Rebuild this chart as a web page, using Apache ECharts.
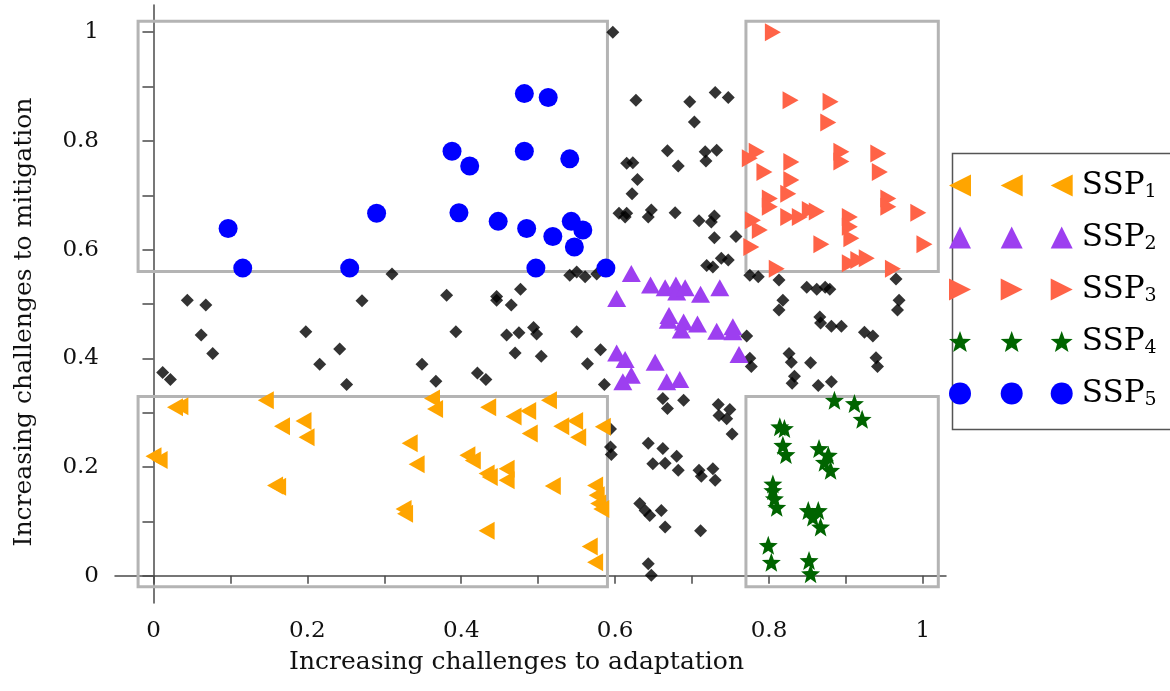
<!DOCTYPE html>
<html><head><meta charset="utf-8">
<script src="https://cdn.jsdelivr.net/npm/echarts@6/dist/echarts.min.js"></script>
<style>html,body{margin:0;padding:0;background:#fff}#c{width:1170px;height:691px}</style>
</head><body><div id="c"></div>
<script>
// ---- data (x = challenges to adaptation, y = challenges to mitigation) ----
const ssp1 = [[0.028,0.310],[0.035,0.312],[0.146,0.323],[0.167,0.275],[0.195,0.285],[0.199,0.255],
  [0.000,0.220],[0.008,0.213],[0.158,0.166],[0.162,0.164],[0.362,0.326],[0.366,0.307],[0.333,0.244],
  [0.342,0.205],[0.325,0.123],[0.327,0.114],[0.435,0.310],[0.468,0.293],[0.487,0.303],[0.489,0.262],
  [0.514,0.323],[0.530,0.275],[0.548,0.285],[0.552,0.255],[0.584,0.274],[0.408,0.222],[0.415,0.212],
  [0.433,0.188],[0.437,0.182],[0.459,0.197],[0.459,0.176],[0.519,0.165],[0.574,0.166],[0.576,0.148],
  [0.578,0.133],[0.582,0.123],[0.433,0.083],[0.567,0.054],[0.574,0.025]];
const ssp2 = [[0.621,0.556],[0.602,0.510],[0.646,0.535],[0.665,0.530],[0.679,0.535],[0.680,0.522],
  [0.691,0.530],[0.711,0.518],[0.736,0.530],[0.670,0.479],[0.669,0.470],[0.689,0.467],[0.686,0.452],
  [0.707,0.463],[0.732,0.450],[0.753,0.458],[0.753,0.449],[0.761,0.407],[0.602,0.410],[0.613,0.398],
  [0.652,0.393],[0.621,0.369],[0.610,0.357],[0.667,0.357],[0.684,0.361]];
const ssp3 = [[0.805,1.000],[0.828,0.875],[0.880,0.872],[0.877,0.834],[0.775,0.768],[0.784,0.780],
  [0.794,0.743],[0.829,0.761],[0.829,0.728],[0.825,0.703],[0.894,0.780],[0.894,0.762],[0.942,0.777],
  [0.944,0.743],[0.801,0.694],[0.801,0.679],[0.779,0.654],[0.788,0.636],[0.777,0.605],[0.825,0.660],
  [0.840,0.660],[0.853,0.673],[0.862,0.670],[0.905,0.660],[0.905,0.642],[0.907,0.621],[0.955,0.694],
  [0.955,0.679],[0.994,0.668],[1.002,0.610],[0.868,0.610],[0.905,0.575],[0.916,0.581],[0.927,0.584],
  [0.961,0.565],[0.810,0.565]];
const ssp4 = [[0.885,0.323],[0.911,0.317],[0.921,0.288],[0.814,0.274],[0.820,0.271],[0.818,0.240],
  [0.822,0.223],[0.865,0.234],[0.877,0.222],[0.872,0.209],[0.880,0.194],[0.805,0.169],[0.805,0.157],
  [0.807,0.142],[0.810,0.126],[0.851,0.120],[0.864,0.120],[0.857,0.108],[0.867,0.090],[0.799,0.056],
  [0.803,0.025],[0.852,0.028],[0.854,0.004]];
const ssp5 = [[0.482,0.887],[0.513,0.880],[0.388,0.781],[0.411,0.754],[0.482,0.781],[0.541,0.767],
  [0.290,0.667],[0.397,0.668],[0.097,0.639],[0.448,0.652],[0.485,0.639],[0.519,0.624],[0.543,0.652],
  [0.558,0.636],[0.547,0.605],[0.116,0.566],[0.255,0.566],[0.497,0.566],[0.588,0.566]];
const others = [[0.597,1.000],
  [0.627,0.875],[0.697,0.872],[0.703,0.835],[0.730,0.889],[0.747,0.880],
  [0.668,0.782],[0.682,0.754],[0.717,0.780],[0.718,0.763],[0.732,0.783],
  [0.615,0.759],[0.623,0.760],[0.629,0.729],[0.622,0.703],
  [0.605,0.667],[0.613,0.660],[0.615,0.667],[0.643,0.660],[0.647,0.673],
  [0.678,0.668],[0.709,0.653],[0.725,0.651],[0.729,0.662],[0.729,0.622],[0.757,0.624],
  [0.719,0.571],[0.727,0.568],[0.738,0.584],[0.747,0.581],
  [0.775,0.553],[0.786,0.550],[0.813,0.544],
  [0.849,0.531],[0.862,0.527],[0.873,0.531],[0.879,0.527],
  [0.965,0.546],[0.969,0.507],[0.967,0.489],
  [0.818,0.507],[0.813,0.489],
  [0.866,0.476],[0.867,0.465],[0.881,0.459],[0.894,0.459],
  [0.924,0.448],[0.935,0.441],[0.939,0.401],[0.941,0.385],
  [0.826,0.409],[0.829,0.393],[0.854,0.392],[0.833,0.367],[0.830,0.354],[0.864,0.350],[0.881,0.357],
  [0.771,0.441],[0.775,0.400],[0.777,0.385],
  [0.310,0.555],[0.541,0.553],[0.550,0.559],[0.561,0.550],[0.576,0.555],
  [0.044,0.507],[0.068,0.498],[0.271,0.506],[0.381,0.516],[0.446,0.514],[0.446,0.507],[0.465,0.498],[0.477,0.527],
  [0.062,0.443],[0.077,0.409],[0.012,0.374],[0.022,0.361],
  [0.198,0.449],[0.242,0.417],[0.216,0.389],[0.251,0.352],
  [0.393,0.449],[0.459,0.443],[0.475,0.447],[0.494,0.457],[0.498,0.445],[0.550,0.449],
  [0.470,0.410],[0.504,0.404],[0.581,0.416],[0.564,0.390],
  [0.349,0.389],[0.367,0.358],[0.421,0.373],[0.432,0.361],[0.586,0.352],
  [0.662,0.326],[0.668,0.308],[0.689,0.323],
  [0.734,0.315],[0.749,0.306],[0.735,0.295],[0.745,0.289],[0.752,0.261],
  [0.594,0.270],[0.594,0.237],[0.595,0.223],
  [0.643,0.244],[0.662,0.234],[0.680,0.220],[0.649,0.206],[0.665,0.207],[0.682,0.194],
  [0.709,0.194],[0.712,0.183],[0.727,0.197],[0.730,0.176],
  [0.632,0.133],[0.639,0.120],[0.645,0.111],[0.660,0.120],[0.665,0.090],[0.711,0.083],
  [0.643,0.022],[0.647,0.001]];
// quadrant boxes: [x0, x1, y0, y1]
const regions = [[-0.02,0.59,0.56,1.02],[-0.02,0.59,-0.02,0.33],[0.77,1.02,0.56,1.02],[0.77,1.02,-0.02,0.33]];
const xTicks = [0,0.1,0.2,0.3,0.4,0.5,0.6,0.7,0.8,0.9,1];
const xLabels = [0,0.2,0.4,0.6,0.8,1];
const yTicks = [0,0.1,0.2,0.3,0.4,0.5,0.6,0.7,0.8,0.9,1];
const yLabels = [0,0.2,0.4,0.6,0.8,1];
const seriesNames = ['SSP1','SSP2','SSP3','SSP4','SSP5'];
const xTitle = 'Increasing challenges to adaptation';
const yTitle = 'Increasing challenges to mitigation';

const FONT = 'DejaVu Serif';
const AX = '#4a4a4a';
const leftTri = 'path://M0,50 L100,0 L100,100 Z';
const rightTri = 'path://M100,50 L0,0 L0,100 Z';
const star = 'path://M50,0 L62.35,33.01 L97.55,34.55 L69.97,56.49 L79.39,90.45 L50,71 L20.61,90.45 L30.03,56.49 L2.45,34.55 L37.65,33.01 Z';

const styles = [
  {data: ssp1, color: '#FFA500', symbol: leftTri, size: [16, 18]},
  {data: ssp2, color: '#9D3FF0', symbol: 'triangle', size: [19, 17]},
  {data: ssp3, color: '#FF6347', symbol: rightTri, size: [16, 18]},
  {data: ssp4, color: '#006400', symbol: star, size: [19, 19]},
  {data: ssp5, color: '#0000FF', symbol: 'circle', size: 19}
];

const chart = echarts.init(document.getElementById('c'), null, {renderer: 'canvas'});
const legendFmt = n => '{b|SSP}{s|' + n.slice(3) + '}';
function mkLegend(left, showText) {
  const col = showText ? '#000' : 'rgba(0,0,0,0)';
  return {
    orient: 'vertical', left: left, top: 170, padding: 0,
    itemWidth: 22, itemHeight: 22, itemGap: 20.5, selectedMode: false,
    data: seriesNames, formatter: legendFmt,
    textStyle: {
      color: col, fontFamily: FONT,
      rich: {
        b: {fontSize: 31, fontFamily: FONT, color: col, lineHeight: 32, padding: [0, 0, 0, 4]},
        s: {fontSize: 19, fontFamily: FONT, color: col, lineHeight: 20, verticalAlign: 'bottom'}
      }
    }
  };
}

const series = [{
  name: 'Other', type: 'scatter', data: others, symbol: 'diamond', symbolSize: [13, 13],
  itemStyle: {color: '#000'}, z: 2, silent: true,
  markArea: {
    silent: true,
    itemStyle: {color: 'rgba(0,0,0,0)', borderColor: '#b4b4b4', borderWidth: 3},
    data: regions.map(r => [{coord: [r[0], r[2]]}, {coord: [r[1], r[3]]}])
  }
}];
styles.forEach((s, i) => series.push({
  name: seriesNames[i], type: 'scatter', data: s.data, symbol: s.symbol, symbolSize: s.size,
  itemStyle: {color: s.color, opacity: 1}, z: 3
}));

chart.setOption({
  animation: false,
  backgroundColor: '#fff',
  grid: {left: 115, right: 224, top: 5, bottom: 88},
  legend: [mkLegend(949, false), mkLegend(1000.7, false), mkLegend(1050.7, true)],
  graphic: [{type: 'rect', left: 950, top: 151, shape: {width: 240, height: 276},
    style: {fill: 'none', stroke: '#555', lineWidth: 1.5}, silent: true}],
  xAxis: {
    type: 'value', min: -0.05, max: 1.03,
    name: xTitle, nameLocation: 'middle', nameGap: 47,
    nameTextStyle: {fontFamily: FONT, fontSize: 25, color: '#111', padding: [0, 28, 0, 0]},
    axisLine: {show: true, lineStyle: {color: AX, width: 1.5}},
    axisTick: {show: true, customValues: xTicks, length: 8, lineStyle: {color: AX, width: 1.5}},
    axisLabel: {customValues: xLabels, margin: 17, fontFamily: FONT, fontSize: 23, color: '#111'},
    splitLine: {show: false}
  },
  yAxis: {
    type: 'value', min: -0.05, max: 1.05,
    name: yTitle, nameLocation: 'middle', nameGap: 78,
    nameTextStyle: {fontFamily: FONT, fontSize: 25, color: '#111', padding: [0, 36, 0, 0]},
    axisLine: {show: true, lineStyle: {color: AX, width: 1.5}},
    axisTick: {show: true, customValues: yTicks, length: 11, lineStyle: {color: AX, width: 1.5}},
    axisLabel: {customValues: yLabels, margin: 16, fontFamily: FONT, fontSize: 23, color: '#111'},
    splitLine: {show: false}
  },
  series: series
});
</script></body></html>
